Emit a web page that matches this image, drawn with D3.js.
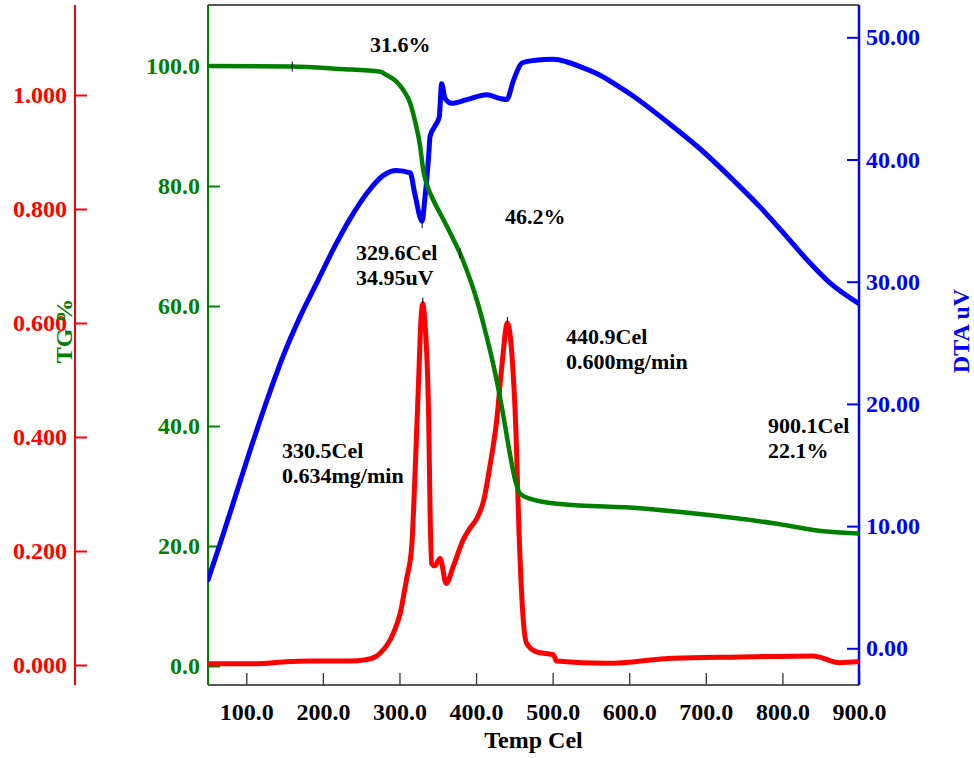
<!DOCTYPE html>
<html>
<head>
<meta charset="utf-8">
<script src="https://cdn.jsdelivr.net/npm/d3@7/dist/d3.min.js"></script>
<style>
  html, body { margin: 0; padding: 0; background: #fff; }
  svg { display: block; }
  text { font-family: "Liberation Serif", "Times New Roman", serif; font-weight: bold; }
</style>
</head>
<body>
<svg id="chart" width="974" height="758"></svg>
<script>
// Temperature ticks
const tempTicks = [100, 200, 300, 400, 500, 600, 700, 800, 900];
const tgTicks = [0, 20, 40, 60, 80, 100];
const dtgTicks = [0, 0.2, 0.4, 0.6, 0.8, 1.0];
const dtaTicks = [0, 10, 20, 30, 40, 50];

// TG (%) vs temperature
const tgTemp  = [50, 160, 222, 275, 283, 296, 305, 314, 320, 327, 331, 337, 344, 359, 370, 379, 390, 401, 414, 425, 435, 444, 451, 457, 470, 510, 614, 701, 788, 858, 900];
const tgValue = [100.0, 99.9, 99.5, 99.05, 98.5, 97.4, 96.0, 93.8, 91.0, 86.6, 82.7, 79.8, 77.7, 74.0, 71.2, 68.8, 65.2, 61.0, 54.8, 48.8, 42.2, 35.5, 31.0, 28.8, 27.9, 27.0, 26.3, 25.2, 23.8, 22.4, 22.1];

// DTA (uV) vs temperature
const dtaTemp  = [50, 66, 83, 105, 127, 148, 170, 192, 214, 235, 257, 279, 296, 314, 320, 329.6, 333, 338, 340, 346, 352, 355, 359.5, 368, 388, 414, 431, 440, 449, 460, 475, 501, 518, 536, 562, 588, 605, 649, 692, 736, 771, 797, 832, 862, 900];
const dtaValue = [5.6, 8.6, 11.9, 16.2, 20.3, 23.9, 27.1, 29.9, 32.7, 35.1, 37.2, 38.7, 39.1, 38.9, 37.2, 34.95, 36.7, 40.2, 41.9, 42.7, 43.5, 46.2, 45.0, 44.6, 44.9, 45.3, 45.0, 44.9, 46.5, 47.9, 48.1, 48.2, 48.0, 47.6, 46.9, 45.9, 45.2, 43.1, 40.9, 38.3, 36.1, 34.3, 31.8, 29.9, 28.2];

// DTG (mg/min) vs temperature
const dtgTemp  = [50, 105, 157, 183, 235, 255, 268, 275, 292, 301, 309, 316, 320, 325, 328, 330.5, 333, 338, 340, 342, 346, 353, 361, 370, 383, 392, 401, 410, 418, 427, 434, 440.9, 447, 452, 456, 461, 466, 479, 497, 501, 505, 571, 658, 745, 840, 875, 900];
const dtgValue = [0.002, 0.002, 0.006, 0.007, 0.007, 0.009, 0.014, 0.021, 0.056, 0.091, 0.149, 0.208, 0.325, 0.50, 0.605, 0.634, 0.605, 0.442, 0.266, 0.178, 0.174, 0.187, 0.143, 0.172, 0.219, 0.240, 0.257, 0.289, 0.348, 0.430, 0.529, 0.600, 0.541, 0.412, 0.237, 0.091, 0.038, 0.023, 0.019, 0.018, 0.007, 0.003, 0.012, 0.014, 0.016, 0.004, 0.006];

// Analysis markers on the curves
const tgMarks  = [[160, 99.9], [379, 68.8]];
const dtaMarks = [[329.6, 34.95]];
const dtgMarks = [[330.5, 0.634], [440.9, 0.600]];

// Annotation texts with their pixel anchors
const notes = [
  { lines: ["31.6%"], x: 370, y: 52 },
  { lines: ["329.6Cel", "34.95uV"], x: 356, y: 260 },
  { lines: ["46.2%"], x: 505, y: 224 },
  { lines: ["440.9Cel", "0.600mg/min"], x: 566, y: 344 },
  { lines: ["900.1Cel", "22.1%"], x: 768, y: 433 },
  { lines: ["330.5Cel", "0.634mg/min"], x: 282, y: 458 }
];

const GREEN = "#008000", RED = "#ff0000", BLUE = "#0000ff";
const plotLeft = 208, plotRight = 859, plotTop = 5, plotBottom = 685;

const svg = d3.select("#chart");
svg.append("rect").attr("width", 974).attr("height", 758).attr("fill", "#fff");

const x = d3.scaleLinear().domain([50, 900]).range([plotLeft, plotRight]);
const yTG = d3.scaleLinear().domain([0, 100]).range([666, 66]);
const yDTG = d3.scaleLinear().domain([0, 1]).range([665, 95]);
const yDTA = d3.scaleLinear().domain([0, 50]).range([648.3, 37.3]);

// Frame: top and bottom lines
svg.append("line").attr("x1", plotLeft).attr("x2", plotRight).attr("y1", plotTop).attr("y2", plotTop)
  .attr("stroke", "#222").attr("stroke-width", 1.5);
svg.append("line").attr("x1", plotLeft).attr("x2", plotRight).attr("y1", plotBottom).attr("y2", plotBottom)
  .attr("stroke", "#222").attr("stroke-width", 1.5);

// Bottom temperature axis
const gx = svg.append("g").attr("transform", `translate(0,${plotBottom})`)
  .call(d3.axisBottom(x).tickValues(tempTicks).tickFormat(d3.format(".1f"))
    .tickSizeInner(-12).tickSizeOuter(0).tickPadding(18));
gx.select(".domain").remove();
gx.selectAll(".tick line").attr("stroke", "#333").attr("stroke-width", 1.3);
gx.selectAll(".tick text").attr("fill", "#000").style("font-size", "24px");

// TG axis (green)
const gTG = svg.append("g").attr("transform", `translate(${plotLeft},0)`)
  .call(d3.axisLeft(yTG).tickValues(tgTicks).tickFormat(d3.format(".1f"))
    .tickSizeInner(-12).tickSizeOuter(0).tickPadding(8));
gTG.select(".domain").remove();
gTG.selectAll(".tick line").attr("stroke", GREEN).attr("stroke-width", 2);
gTG.selectAll(".tick text").attr("fill", GREEN).style("font-size", "24px");
svg.append("line").attr("x1", plotLeft).attr("x2", plotLeft).attr("y1", plotTop).attr("y2", plotBottom)
  .attr("stroke", GREEN).attr("stroke-width", 2);

// DTG axis (red), detached on the far left
const redX = 75;
const gDTG = svg.append("g").attr("transform", `translate(${redX},0)`)
  .call(d3.axisLeft(yDTG).tickValues(dtgTicks).tickFormat(d3.format(".3f"))
    .tickSizeInner(-12).tickSizeOuter(0).tickPadding(8));
gDTG.select(".domain").remove();
gDTG.selectAll(".tick line").attr("stroke", RED).attr("stroke-width", 2);
gDTG.selectAll(".tick text").attr("fill", RED).style("font-size", "24px");
svg.append("line").attr("x1", redX).attr("x2", redX).attr("y1", plotTop).attr("y2", plotBottom)
  .attr("stroke", RED).attr("stroke-width", 2);

// DTA axis (blue) on the right
const gDTA = svg.append("g").attr("transform", `translate(${plotRight},0)`)
  .call(d3.axisRight(yDTA).tickValues(dtaTicks).tickFormat(d3.format(".2f"))
    .tickSizeInner(-12).tickSizeOuter(0).tickPadding(7));
gDTA.select(".domain").remove();
gDTA.selectAll(".tick line").attr("stroke", BLUE).attr("stroke-width", 2);
gDTA.selectAll(".tick text").attr("fill", BLUE).style("font-size", "24px");
svg.append("line").attr("x1", plotRight).attr("x2", plotRight).attr("y1", plotTop).attr("y2", plotBottom)
  .attr("stroke", BLUE).attr("stroke-width", 2.5);

// Axis titles
svg.append("text").attr("x", (plotLeft + plotRight) / 2).attr("y", 748).attr("text-anchor", "middle")
  .style("font-size", "24px").attr("fill", "#000").text("Temp Cel");
svg.append("text").attr("transform", "translate(72,331) rotate(-90)").attr("text-anchor", "middle")
  .style("font-size", "24px").attr("fill", GREEN).text("TG %");
svg.append("text").attr("transform", "translate(969,331) rotate(-90)").attr("text-anchor", "middle")
  .style("font-size", "24px").attr("fill", BLUE).text("DTA uV");

// Curves
svg.append("clipPath").attr("id", "clip").append("rect")
  .attr("x", plotLeft).attr("y", plotTop).attr("width", plotRight - plotLeft).attr("height", plotBottom - plotTop);
const curves = svg.append("g").attr("clip-path", "url(#clip)");

function drawCurve(temps, vals, yScale, color, width) {
  const pts = temps.map((t, i) => [t, vals[i]]);
  const line = d3.line().x(d => x(d[0])).y(d => yScale(d[1])).curve(d3.curveMonotoneX);
  curves.append("path").attr("d", line(pts)).attr("fill", "none")
    .attr("stroke", color).attr("stroke-width", width)
    .attr("stroke-linejoin", "round").attr("stroke-linecap", "round");
}
drawCurve(dtgTemp, dtgValue, yDTG, RED, 5);
drawCurve(dtaTemp, dtaValue, yDTA, BLUE, 5);
drawCurve(tgTemp, tgValue, yTG, GREEN, 4.5);

// Small analysis marks
tgMarks.forEach(d => {
  curves.append("line").attr("x1", x(d[0])).attr("x2", x(d[0]))
    .attr("y1", yTG(d[1]) - 5).attr("y2", yTG(d[1]) + 5).attr("stroke", "#000").attr("stroke-width", 1);
});
dtaMarks.forEach(d => {
  curves.append("line").attr("x1", x(d[0])).attr("x2", x(d[0]))
    .attr("y1", yDTA(d[1]) + 2).attr("y2", yDTA(d[1]) + 7).attr("stroke", "#000").attr("stroke-width", 1);
});
dtgMarks.forEach(d => {
  curves.append("line").attr("x1", x(d[0])).attr("x2", x(d[0]))
    .attr("y1", yDTG(d[1]) - 6).attr("y2", yDTG(d[1]) - 1).attr("stroke", "#000").attr("stroke-width", 1);
});

// Annotations
notes.forEach(n => {
  const t = svg.append("text").attr("fill", "#000").style("font-size", "22px");
  n.lines.forEach((s, i) => {
    t.append("tspan").attr("x", n.x).attr("y", n.y + i * 25).text(s);
  });
});
</script>
</body>
</html>
